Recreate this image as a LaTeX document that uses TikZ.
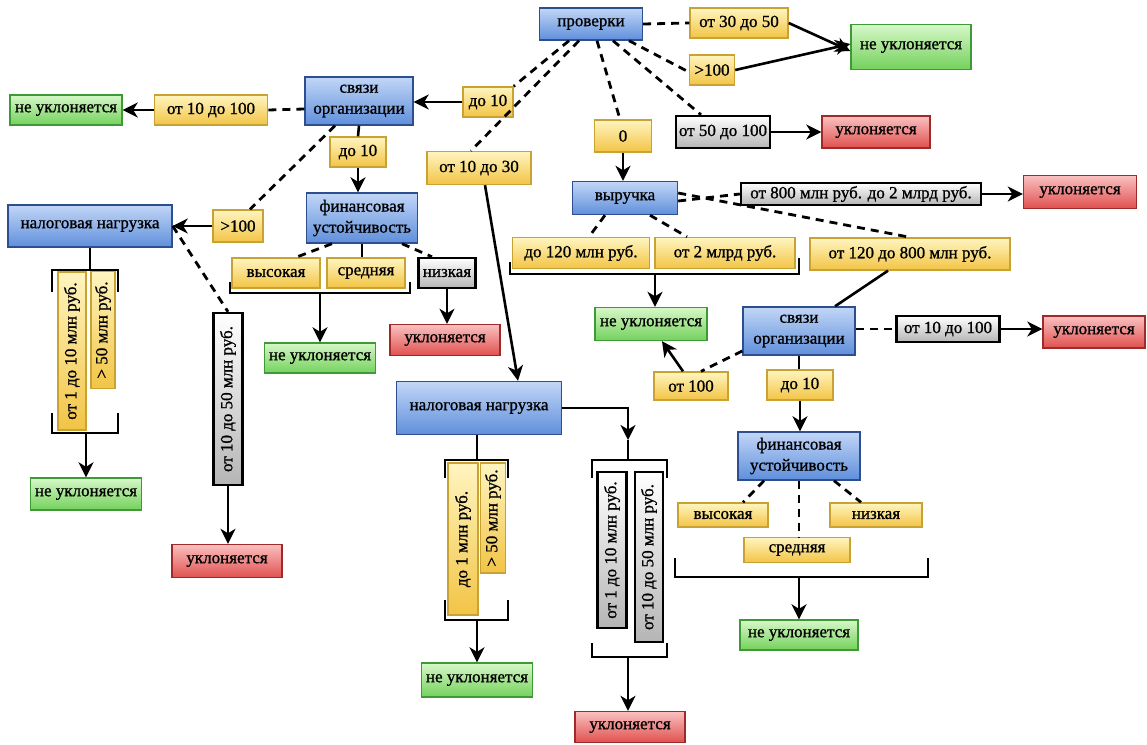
\documentclass[tikz,border=0pt]{standalone}
\usepackage{fontspec}
\setmainfont{Liberation Serif}
\newfontfamily\heavyfont{Liberation Serif}[FakeBold=1]
\usetikzlibrary{arrows.meta}
\definecolor{blT}{HTML}{C2D6F7}
\definecolor{blB}{HTML}{5F8FDB}
\definecolor{blD}{HTML}{2E4F8F}
\definecolor{yeT}{HTML}{FFF5C0}
\definecolor{yeB}{HTML}{F2C445}
\definecolor{yeD}{HTML}{C9A234}
\definecolor{grT}{HTML}{D6F8C8}
\definecolor{grB}{HTML}{74D15C}
\definecolor{grD}{HTML}{3E9A36}
\definecolor{rdT}{HTML}{FAC0C0}
\definecolor{rdB}{HTML}{E0514F}
\definecolor{rdD}{HTML}{9E2A2A}
\definecolor{gyB}{HTML}{B5B5B5}
\newcommand\dfont{\heavyfont\fontsize{17}{21}\selectfont}
\begin{document}
\begin{tikzpicture}[x=1pt,y=-1pt,
 bx/.style={draw, line width=1.4pt, inner sep=1pt, align=center, font=\dfont, text=black},
 bl/.style={bx, top color=blT, bottom color=blB, draw=blD},
 ye/.style={bx, top color=yeT, bottom color=yeB, draw=yeD},
 gr/.style={bx, top color=grT, bottom color=grB, draw=grD},
 rd/.style={bx, top color=rdT, bottom color=rdB, draw=rdD},
 gy/.style={bx, top color=white, bottom color=gyB, draw=black, line width=2.4pt},
 vt/.style={rotate=90},
 con/.style={line width=2.6pt},
 arr/.style={con, -{Stealth[length=15pt,width=15pt,inset=4.5pt]}},
 dsh/.style={line width=2.8pt, dash pattern=on 8pt off 6pt},
 brk/.style={line width=2.6pt}]
\fill[white] (0,0) rectangle (1147,744);
\useasboundingbox (0,0) rectangle (1147,744);

% ---------- top
\node[bl, minimum width=103pt, minimum height=32pt] (prov) at (591,24) {проверки};
\node[ye, minimum width=98pt, minimum height=30pt] (y3050) at (739,23) {от 30 до 50};
\node[gr, minimum width=120pt, minimum height=45pt] (gNU1) at (911,47) {не уклоняется};
\node[ye, minimum width=45pt, minimum height=30pt] (y100a) at (712,70) {>100};
\node[gy, minimum width=94pt, minimum height=32pt] (g50100) at (723,132) {от 50 до 100};
\node[rd, minimum width=108pt, minimum height=32pt] (rU1) at (876,132) {уклоняется};
\node[ye, minimum width=57pt, minimum height=32pt] (y0) at (623,136) {0};

% ---------- left upper
\node[bl, minimum width=108pt, minimum height=48pt] (sv1) at (359,101) {связи\\организации};
\node[ye, minimum width=50pt, minimum height=30pt] (yd10a) at (488,102) {до 10};
\node[ye, minimum width=113pt, minimum height=30pt] (y10100) at (211,110) {от 10 до 100};
\node[gr, minimum width=112pt, minimum height=30pt] (gNU2) at (66,110) {не уклоняется};
\node[ye, minimum width=56pt, minimum height=30pt] (yd10b) at (358,152) {до 10};
\node[ye, minimum width=104pt, minimum height=33pt] (y1030) at (479,168) {от 10 до 30};
\node[bl, minimum width=111pt, minimum height=50pt] (fin1) at (362,218) {финансовая\\устойчивость};
\node[bl, minimum width=164pt, minimum height=42pt] (nn1) at (90,226) {налоговая нагрузка};
\node[ye, minimum width=50pt, minimum height=32pt] (y100b) at (238,226) {>100};
\node[ye, minimum width=88pt, minimum height=30pt] (yvys1) at (276,273) {высокая};
\node[ye, minimum width=78pt, minimum height=30pt] (ysr1) at (366,273) {средняя};
\node[gy, minimum width=57pt, minimum height=30pt] (gnz1) at (447,273) {низкая};
\node[gr, minimum width=111pt, minimum height=30pt] (gNU5) at (320,358) {не уклоняется};
\node[rd, minimum width=110pt, minimum height=31pt] (rU4) at (445,340) {уклоняется};

% ---------- left verticals
\node[ye, vt, minimum width=158pt, minimum height=28pt] (v1) at (72,351) {от 1 до 10 млн руб.};
\node[ye, vt, minimum width=117pt, minimum height=24pt] (v2) at (103,330) {> 50 млн руб.};
\node[gr, minimum width=111pt, minimum height=32pt] (gNU6) at (86,494) {не уклоняется};
\node[gy, vt, minimum width=172pt, minimum height=29pt] (v3) at (228,399) {от 10 до 50 млн руб.};
\node[rd, minimum width=110pt, minimum height=33pt] (rU5) at (227,561) {уклоняется};

% ---------- middle
\node[bl, minimum width=165pt, minimum height=53pt] (nn2) at (479,408) {налоговая нагрузка};
\node[ye, vt, minimum width=152pt, minimum height=30pt] (v4) at (463,539) {до 1 млн руб.};
\node[ye, vt, minimum width=110pt, minimum height=25pt] (v5) at (493,518) {> 50 млн руб.};
\node[gr, minimum width=111pt, minimum height=34pt] (gNU7) at (477,680) {не уклоняется};
\node[gy, vt, minimum width=156pt, minimum height=29pt] (v6) at (612,550) {от 1 до 10 млн руб.};
\node[gy, vt, minimum width=170pt, minimum height=28pt] (v7) at (649,557) {от 10 до 50 млн руб.};
\node[rd, minimum width=110pt, minimum height=31pt] (rU6) at (630,727) {уклоняется};

% ---------- right
\node[bl, minimum width=105pt, minimum height=33pt] (vyr) at (625,198) {выручка};
\node[gy, minimum width=240pt, minimum height=22pt] (g800) at (861,194) {от 800 млн руб. до 2 млрд руб.};
\node[rd, minimum width=113pt, minimum height=33pt] (rU2) at (1080,192) {уклоняется};
\node[ye, minimum width=137pt, minimum height=31pt] (yd120) at (581,253) {до 120 млн руб.};
\node[ye, minimum width=140pt, minimum height=31pt] (y2mlrd) at (725,253) {от 2 млрд руб.};
\node[ye, minimum width=200pt, minimum height=32pt] (y120800) at (910,254) {от 120 до 800 млн руб.};
\node[gr, minimum width=112pt, minimum height=33pt] (gNU3) at (651,324) {не уклоняется};
\node[bl, minimum width=112pt, minimum height=48pt] (sv2) at (799,331) {связи\\организации};
\node[gy, minimum width=103pt, minimum height=26pt] (g10100) at (948,329) {от 10 до 100};
\node[rd, minimum width=102pt, minimum height=32pt] (rU3) at (1094,332) {уклоняется};
\node[ye, minimum width=74pt, minimum height=28pt] (y100c) at (691,386) {от 100};
\node[ye, minimum width=66pt, minimum height=30pt] (yd10c) at (800,385) {до 10};
\node[bl, minimum width=122pt, minimum height=48pt] (fin2) at (799,456) {финансовая\\устойчивость};
\node[ye, minimum width=90pt, minimum height=24pt] (yvys2) at (723,515) {высокая};
\node[ye, minimum width=92pt, minimum height=24pt] (ynz2) at (876,515) {низкая};
\node[ye, minimum width=106pt, minimum height=25pt] (ysr2) at (797,550) {средняя};
\node[gr, minimum width=118pt, minimum height=30pt] (gNU4) at (799,635) {не уклоняется};

% ---------- brackets
\draw[brk] (52,292) -- (52,270) -- (118,270) -- (118,292);
\draw[brk] (52,413) -- (52,433) -- (118,433) -- (118,413);
\draw[brk] (230,282) -- (230,293) -- (410,293) -- (410,282);
\draw[brk] (445,478) -- (445,460) -- (508,460) -- (508,478);
\draw[brk] (445,600) -- (445,620) -- (508,620) -- (508,600);
\draw[brk] (592,478) -- (592,460) -- (667,460) -- (667,478);
\draw[brk] (592,643) -- (592,657) -- (667,657) -- (667,643);
\draw[brk] (510,262) -- (510,274) -- (799,274) -- (799,258);
\draw[brk] (675,558) -- (675,577) -- (928,577) -- (928,558);
\coordinate (b1t) at (86,270);
\coordinate (b1b) at (86,433);
\coordinate (b2) at (320,293);
\coordinate (b3t) at (477,460);
\coordinate (b3b) at (477,620);
\coordinate (b4t) at (628,460);
\coordinate (b4m) at (628,440);
\coordinate (b4b) at (628,657);
\coordinate (b5) at (655,274);
\coordinate (b6) at (799,577);

% ---------- connectors from проверки
\draw[dsh] (prov.east) -- (y3050.west);
\draw[arr] (y3050.east) -- ([yshift=-4pt]gNU1.west);
\draw[dsh] ([xshift=38pt]prov.south) -- ([yshift=-2pt]y100a.west);
\draw[arr] (y100a.east) -- ([yshift=3pt]gNU1.west);
\draw[dsh] ([xshift=22pt]prov.south) -- ([xshift=-22pt]g50100.north);
\draw[arr] (g50100.east) -- (rU1.west);
\draw[dsh] ([xshift=6pt]prov.south) -- ([xshift=-3pt]y0.north);
\draw[arr] (y0.south) -- (y0.south |- vyr.north);
\draw[dsh] ([xshift=-22pt]prov.south) -- (yd10a.north east);
\draw[arr] (yd10a.west) -- (yd10a.west -| sv1.east);
\draw[dsh] ([xshift=-12pt]prov.south) -- ([xshift=-8pt]y1030.north);

% ---------- left part
\draw[dsh] ([yshift=-8pt]sv1.west) -- (y10100.east);
\draw[arr] (y10100.west) -- (gNU2.east);
\draw[con] (sv1.south) -- (yd10b.north);
\draw[arr] (yd10b.south) -- (yd10b.south |- fin1.north);
\draw[dsh] ([xshift=-24pt]sv1.south) -- ([xshift=12pt]y100b.north);
\draw[arr] (y100b.west) -- (nn1.east);
\draw[dsh] (nn1.east) -- (v3.east);
\draw[arr] (v3.west) -- (v3.west |- rU5.north);
\draw[con] (nn1.south) -- (nn1.south |- b1t);
\draw[arr] (b1b) -- (gNU6.north);
\draw[dsh] ([xshift=-30pt]fin1.south) -- ([xshift=20pt]yvys1.north);
\draw[con] (fin1.south) -- (fin1.south |- ysr1.north);
\draw[dsh] ([xshift=40pt]fin1.south) -- ([xshift=-15pt]gnz1.north);
\draw[arr] (b2) -- (gNU5.north);
\draw[arr] (gnz1.south) -- (gnz1.south |- rU4.north);

% ---------- middle
\draw[arr] ([xshift=6pt]y1030.south) -- ([xshift=39pt]nn2.north);
\draw[con] (nn2.south -| b3t) -- (b3t);
\draw[arr] (b3b) -- (gNU7.north);
\draw[arr] (nn2.east) -| (b4m);
\draw[con] (b4m) -- (b4t);
\draw[arr] (b4b) -- (b4b |- rU6.north);

% ---------- right
\draw[dsh] ([yshift=-3pt]vyr.east) -- (g800.west);
\draw[arr] (g800.east) -- (g800.east -| rU2.west);
\draw[dsh] ([yshift=5pt]vyr.east) -- (y120800.north);
\draw[dsh] ([xshift=-20pt]vyr.south) -- ([xshift=8pt]yd120.north);
\draw[dsh] ([xshift=25pt]vyr.south) -- ([xshift=-38pt]y2mlrd.north);
\draw[arr] (b5) -- (b5 |- gNU3.north);
\draw[con] ([xshift=-22pt]y120800.south) -- ([xshift=36pt]sv2.north);
\draw[dsh] (sv2.east |- g10100.west) -- (g10100.west);
\draw[arr] (g10100.east) -- (g10100.east -| rU3.west);
\draw[dsh] ([yshift=-20pt]sv2.west) -- ([xshift=10pt]y100c.north);
\draw[arr] ([xshift=-8pt]y100c.north) -- ([xshift=11pt]gNU3.south);
\draw[con] (sv2.south) -- (sv2.south |- yd10c.north);
\draw[arr] (yd10c.south) -- (yd10c.south |- fin2.north);
\draw[dsh] ([xshift=-35pt]fin2.south) -- ([xshift=20pt]yvys2.north);
\draw[dsh] (fin2.south) -- (fin2.south |- ysr2.north);
\draw[dsh] ([xshift=35pt]fin2.south) -- ([xshift=-15pt]ynz2.north);
\draw[arr] (b6) -- (gNU4.north);
\end{tikzpicture}
\end{document}
